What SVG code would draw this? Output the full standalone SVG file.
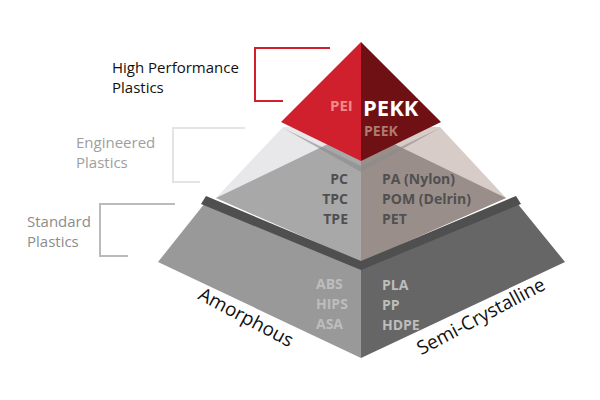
<svg xmlns="http://www.w3.org/2000/svg" width="600" height="400" viewBox="0 0 600 400">
<style>
text{font-family:"Open Sans","DejaVu Sans",sans-serif}
.lab{font-size:15px}
.b{font-weight:bold;font-size:14px}
.br{fill:none;stroke-width:2}
</style>
<rect width="600" height="400" fill="#fff"/>
<g id="tier-standard">
<polygon points="205,203 361,268 361,358 158,262" fill="#999"/>
<polygon points="517,203 361,268 361,358 565,262" fill="#666"/>
<g class="b" fill="#bdbdbd"><text x="316" y="289">ABS</text><text x="316" y="309">HIPS</text><text x="316" y="329">ASA</text>
<text x="382" y="290">PLA</text><text x="382" y="310">PP</text><text x="382" y="330">HDPE</text></g>
</g>
<g id="tier-engineered">
<polygon points="216,198 283,127 361,127 361,262" fill="#e8e8ea"/>
<polygon points="506,198 440,127 361,127 361,262" fill="#d8ccc8"/>
<polygon points="216,198 361,128 361,262" fill="#a8a8a8"/>
<polygon points="506,198 361,128 361,262" fill="#9a8e8b"/>
<polygon points="283,128 361,166 440,128 361,172" fill="#8a8a8a" opacity="0.6"/>
<polygon points="206,196 361,261 516,196 521,204 361,270 201,204" fill="#4f4f4f"/>
<g class="b" fill="#505050"><text x="348" y="184" text-anchor="end">PC</text><text x="348" y="204" text-anchor="end">TPC</text><text x="348" y="224" text-anchor="end">TPE</text>
<text x="382" y="184">PA (Nylon)</text><text x="382" y="204">POM (Delrin)</text><text x="382" y="224">PET</text></g>
</g>
<g id="tier-high">
<polygon points="361,42 281,122 361,161" fill="#d0202e"/>
<polygon points="361,42 441,122 361,161" fill="#6e1014"/>
<text x="330" y="111" font-weight="bold" font-size="15" fill="#f08a88">PEI</text>
<text x="363" y="116" font-weight="bold" font-size="22" fill="#fff">PEKK</text>
<text x="364" y="136" class="b" fill="#b07a70">PEEK</text>
</g>
<g id="connectors">
<polyline class="br" stroke="#d0202e" points="330,48 255,48 255,101 283,101"/>
<polyline class="br" stroke="#e4e4e4" points="245,128 173,128 173,182 200,182"/>
<polyline class="br" stroke="#bbb" points="175,204 100,204 100,256 128,256"/>
</g>
<g id="labels">
<text class="lab" x="112" y="73" fill="#111">High Performance</text><text class="lab" x="112" y="93" fill="#111">Plastics</text>
<text class="lab" x="76" y="148" fill="#9e9e9e">Engineered</text><text class="lab" x="76" y="168" fill="#9e9e9e">Plastics</text>
<text class="lab" x="27" y="227" fill="#8c8c8c">Standard</text><text class="lab" x="27" y="247" fill="#8c8c8c">Plastics</text>
<text x="243" y="323" font-size="19" text-anchor="middle" transform="rotate(28 243 323)" fill="#111">Amorphous</text>
<text x="484" y="322" font-size="19" text-anchor="middle" transform="rotate(-28 484 322)" fill="#111">Semi-Crystalline</text>
</g>
</svg>
